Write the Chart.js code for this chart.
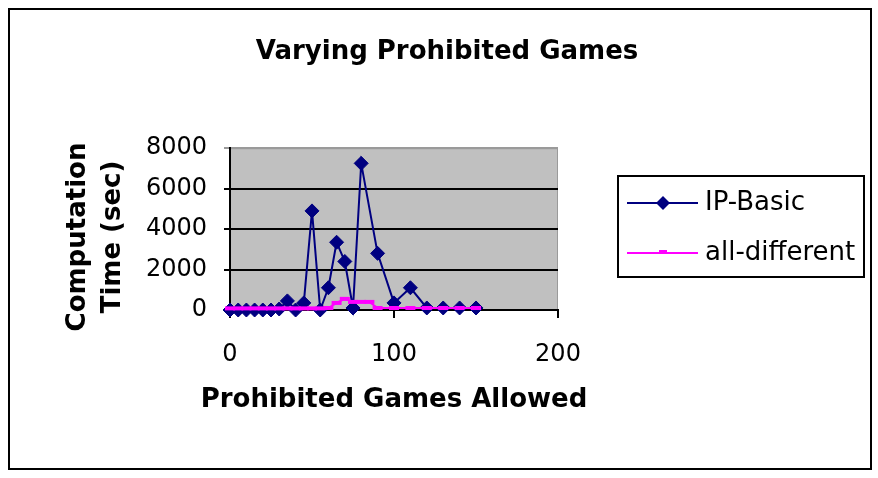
<!DOCTYPE html>
<html>
<head>
<meta charset="utf-8">
<script src="https://cdn.jsdelivr.net/npm/chart.js@4"></script>
<style>
  body { margin: 0; background: #fff; }
  canvas { display: block; }
</style>
</head>
<body>
<canvas id="chart" width="878" height="478"></canvas>
<script>
// IP-Basic run times
const gamesIP = [0, 5, 10, 15, 20, 25, 30, 35, 40, 45, 50, 55, 60, 65, 70, 75, 80, 90, 100, 110, 120, 130, 140, 150];
const timeIP  = [0, 0, 0, 0, 0, 0, 50, 450, 0, 350, 4900, 0, 1100, 3350, 2400, 100, 7250, 2800, 350, 1100, 100, 100, 100, 100];
// all-different run times
const gamesAD = [0, 5, 10, 15, 20, 25, 30, 35, 40, 45, 50, 55, 60, 65, 70, 75, 80, 85, 90, 100, 110, 120, 130, 140, 150];
const timeAD  = [80, 80, 80, 80, 80, 80, 80, 80, 80, 80, 80, 80, 100, 350, 550, 400, 400, 400, 100, 100, 100, 100, 100, 100, 100];
const xTicks = [0, 100, 200];
const yTicks = [0, 2000, 4000, 6000, 8000];

const FONT = 'DejaVu Sans';
const xTitle = 'Prohibited Games Allowed';
const yTitle = ['Computation', 'Time (sec)'];

function toPoints(xs, ys) {
    return xs.map((x, i) => ({ x: x, y: ys[i] }));
}

const datasets = [{
    label: 'IP-Basic',
    data: toPoints(gamesIP, timeIP),
    borderColor: '#000080',
    backgroundColor: '#000080',
    borderWidth: 2,
    pointStyle: 'rectRot',
    pointRadius: 7,
    pointBorderWidth: 1,
    showLine: true,
    clip: false,
    order: 2
}, {
    label: 'all-different',
    data: toPoints(gamesAD, timeAD),
    borderColor: '#ff00ff',
    backgroundColor: '#ff00ff',
    borderWidth: 2,
    pointStyle: 'line',
    pointRadius: 5,
    pointBorderWidth: 4,
    showLine: true,
    clip: false,
    order: 1
}];

// grey plot area + outer frame
const backdrop = {
    id: 'backdrop',
    beforeDraw(chart) {
        const { ctx, chartArea: a } = chart;
        ctx.save();
        ctx.fillStyle = '#c0c0c0';
        ctx.fillRect(a.left, a.top, a.right - a.left, a.bottom - a.top);
        ctx.strokeStyle = '#9a9a9a';
        ctx.lineWidth = 1;
        ctx.strokeRect(a.left + 0.5, a.top + 0.5, a.right - a.left - 1, a.bottom - a.top);
        ctx.restore();
    },
    afterDraw(chart) {
        const ctx = chart.ctx;
        ctx.save();
        ctx.strokeStyle = '#000';
        ctx.lineWidth = 2;
        ctx.strokeRect(9, 9, 862, 460);
        ctx.restore();
    }
};

// axis titles drawn by hand so they are not squeezed to the axis length
const axisTitles = {
    id: 'axisTitles',
    afterDraw(chart) {
        const { ctx, chartArea: a } = chart;
        ctx.save();
        ctx.fillStyle = '#000';
        ctx.font = 'bold 26px "' + FONT + '"';
        ctx.textAlign = 'center';
        ctx.textBaseline = 'alphabetic';
        ctx.fillText(xTitle, (a.left + a.right) / 2, 407);
        ctx.translate(0, 237);
        ctx.rotate(-Math.PI / 2);
        yTitle.forEach((t, i) => ctx.fillText(t, 0, 85 + i * 35));
        ctx.restore();
    }
};

// Excel style boxed legend, line through the marker
const boxLegend = {
    id: 'boxLegend',
    afterDraw(chart) {
        const ctx = chart.ctx;
        ctx.save();
        ctx.strokeStyle = '#000';
        ctx.lineWidth = 2;
        ctx.strokeRect(618, 176, 246, 101);
        ctx.font = '26px "' + FONT + '"';
        ctx.textBaseline = 'middle';
        chart.data.datasets.forEach((ds, i) => {
            const y = 203 + i * 50;
            ctx.strokeStyle = ds.borderColor;
            ctx.lineWidth = ds.borderWidth;
            ctx.beginPath();
            ctx.moveTo(627, y);
            ctx.lineTo(698, y);
            ctx.stroke();
            ctx.fillStyle = ds.backgroundColor;
            if (ds.pointStyle === 'rectRot') {
                ctx.beginPath();
                ctx.moveTo(663 - 7, y);
                ctx.lineTo(663, y - 7);
                ctx.lineTo(663 + 7, y);
                ctx.lineTo(663, y + 7);
                ctx.closePath();
                ctx.fill();
            } else {
                ctx.fillRect(659, y - 3, 8, 4);
            }
            ctx.fillStyle = '#000';
            ctx.fillText(ds.label, 705, y);
        });
        ctx.restore();
    }
};

const config = {
    type: 'scatter',
    data: { datasets: datasets },
    options: {
        responsive: false,
        animation: false,
        layout: { padding: { left: 16, right: 0, top: 0, bottom: 58 } },
        plugins: {
            legend: { display: false },
            tooltip: { enabled: false },
            title: {
                display: true,
                text: 'Varying Prohibited Games',
                color: '#000',
                font: { family: FONT, size: 26, weight: 'bold' },
                padding: { top: 37, bottom: 80 }
            }
        },
        scales: {
            x: {
                type: 'linear',
                min: 0,
                max: 200,
                afterBuildTicks: s => { s.ticks = xTicks.map(v => ({ value: v })); },
                afterFit: s => { s.height = 110; },
                grid: { drawOnChartArea: false, drawTicks: true, tickLength: 8, color: '#000', lineWidth: 2 },
                border: { color: '#000', width: 2 },
                ticks: { color: '#000', font: { family: FONT, size: 24 }, padding: 22, maxRotation: 0, callback: v => String(v) }
            },
            y: {
                min: 0,
                max: 8000,
                afterBuildTicks: s => { s.ticks = yTicks.map(v => ({ value: v })); },
                afterFit: s => { s.width = 214; },
                grid: {
                    color: c => (c.tick && c.tick.value === 8000) ? '#9a9a9a' : '#000',
                    lineWidth: 2,
                    tickLength: 6
                },
                border: { color: '#000', width: 2 },
                ticks: { color: '#000', font: { family: FONT, size: 24 }, padding: 17, callback: v => String(v) }
            },
            // empty axis that keeps the legend's room on the right
            room: {
                type: 'linear',
                position: 'right',
                afterFit: s => { s.width = 320; },
                grid: { display: false },
                border: { display: false },
                ticks: { display: false }
            }
        }
    },
    plugins: [backdrop, axisTitles, boxLegend]
};

const chart = new Chart(document.getElementById('chart'), config);
</script>
</body>
</html>
